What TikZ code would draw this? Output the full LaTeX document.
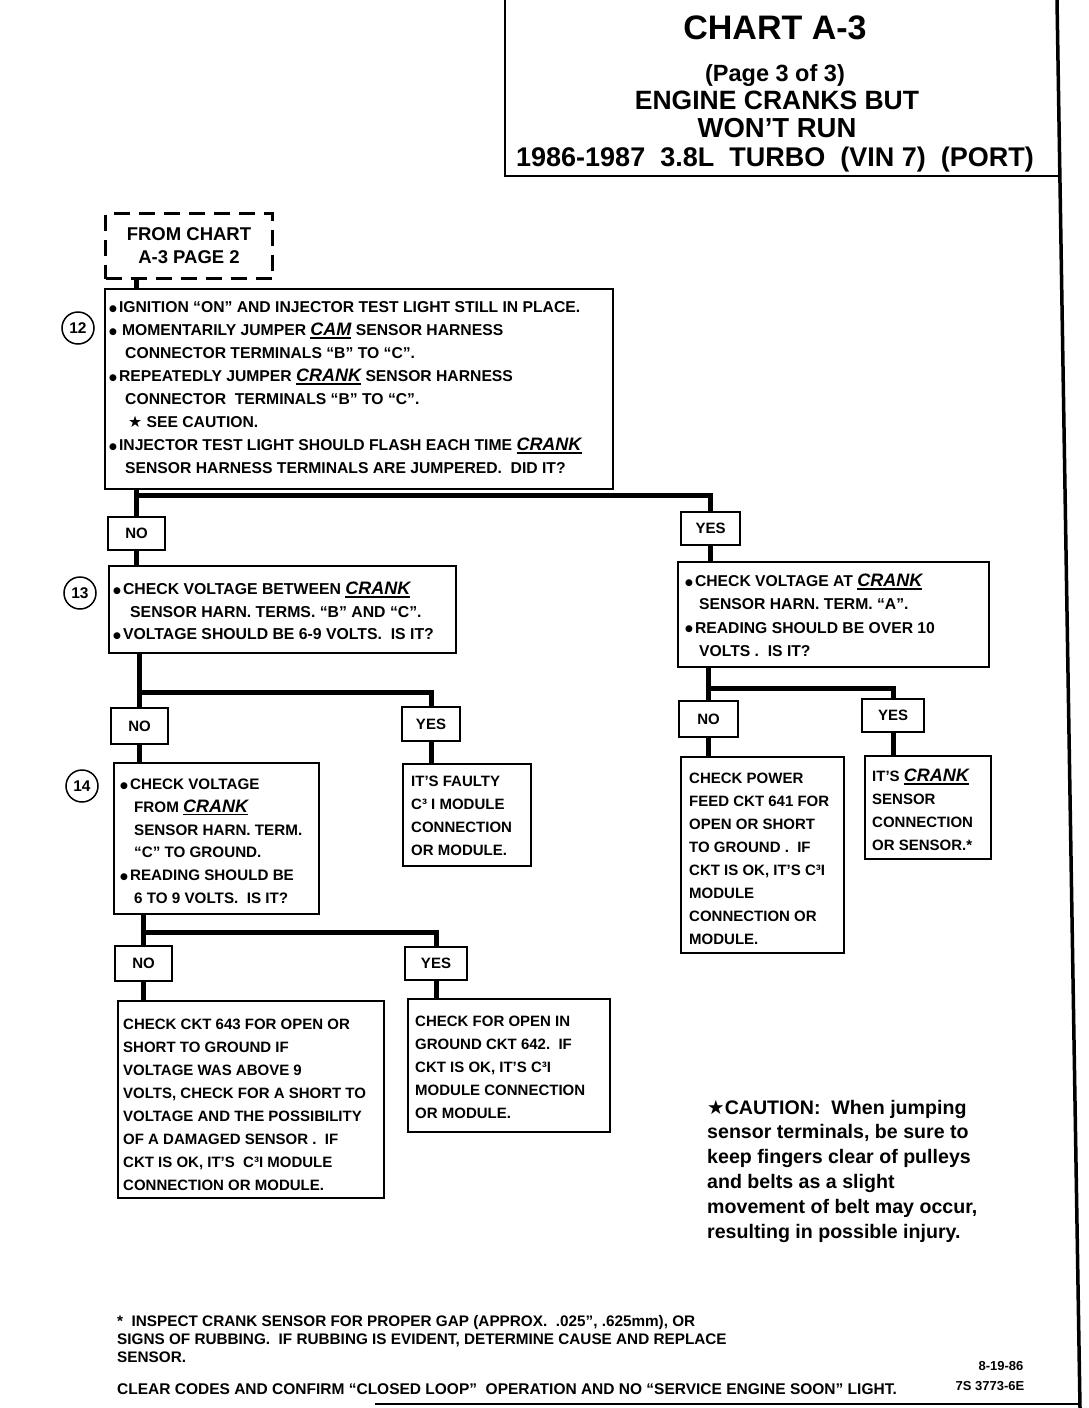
\documentclass[tikz,border=0pt]{standalone}
\usepackage{fontspec}
\setmainfont{Liberation Sans}
\newfontfamily\symf{DejaVu Sans}
\newcommand\fs{\rule{0pt}{14pt}}
\newcommand\bul{\raisebox{1.2pt}{\symf\fontsize{9}{9}\selectfont ●}\hspace{2pt}}
\newcommand\ulit[1]{\leavevmode\setbox0\hbox{\fontsize{18}{18}\selectfont\bfseries\itshape #1}\rlap{\rule[-3pt]{\wd0}{1.6pt}}\box0\relax}
\newcommand\strx{{\symf ★}}
\begin{document}
\begin{tikzpicture}[x=1pt,y=-1pt,
  box/.style={draw, line width=1.8pt, anchor=north west, inner sep=0pt},
  conn/.style={line width=5pt},
  lab/.style={draw, line width=1.8pt, inner sep=0pt, font=\fontsize{15}{15}\selectfont\bfseries},
  txt/.style={anchor=north west, inner sep=0pt, align=left, font=\fontsize{15}{23}\selectfont\bfseries},
  num/.style={circle, draw, line width=1.5pt, minimum size=32pt, inner sep=0pt, font=\fontsize{15.5}{16}\selectfont\bfseries},
  ttl/.style={anchor=base, inner sep=0pt, font=\bfseries}]
\useasboundingbox (0,0) rectangle (1088,1408);
% page frame
\draw[line width=2pt] (505,0) -- (505,176) -- (1058,176);
\draw[line width=3.5pt] (1057,0) -- (1080,1408);
\draw[line width=1.5pt] (375,1404) -- (1080,1404);
% title
\node[ttl, font=\fontsize{34}{34}\selectfont\bfseries] (tA) at (775,39) {CHART A-3};
\node[ttl, font=\fontsize{23.5}{24}\selectfont\bfseries] (tB) at (775,81) {(Page 3 of 3)};
\node[ttl, font=\fontsize{26.5}{27}\selectfont\bfseries] (tC) at (777,109) {ENGINE CRANKS BUT};
\node[ttl, font=\fontsize{27.5}{28}\selectfont\bfseries] (tD) at (777,137) {WON’T RUN};
\node[ttl, font=\fontsize{27}{28}\selectfont\bfseries] (tE) at (775,166) {1986-1987\ \ 3.8L\ \ TURBO\ \ (VIN 7)\ \ (PORT)};
% from chart
\node[draw, dash pattern=on 16pt off 9pt, line width=3pt, anchor=north west, minimum width=167pt, minimum height=65pt, inner sep=0pt, align=center, font=\fontsize{18.5}{23}\selectfont\bfseries] (fc) at (104,212) {FROM CHART\\A-3 PAGE 2};
% boxes
\node[box, minimum width=508pt, minimum height=200pt] (b12) at (104,288) {};
\node[box, minimum width=347pt, minimum height=87pt] (b13) at (108,565) {};
\node[box, minimum width=311pt, minimum height=105pt] (by) at (677,561) {};
\node[box, minimum width=205pt, minimum height=151pt] (b14) at (113,762) {};
\node[box, minimum width=128pt, minimum height=102pt] (bf) at (402,763) {};
\node[box, minimum width=266pt, minimum height=197pt] (bn14) at (117,1000) {};
\node[box, minimum width=202pt, minimum height=133pt] (by14) at (407,998) {};
\node[box, minimum width=163pt, minimum height=196pt] (bnr) at (680,756) {};
\node[box, minimum width=126pt, minimum height=103pt] (byr) at (864,755) {};
% labels
\node[lab, minimum width=57pt, minimum height=33pt] (n1) at (136.5,533.5) {NO};
\node[lab, minimum width=59pt, minimum height=33pt] (y1) at (710.5,528.5) {YES};
\node[lab, minimum width=57pt, minimum height=36pt] (n2) at (139.5,726) {NO};
\node[lab, minimum width=58pt, minimum height=34pt] (y2) at (431,724) {YES};
\node[lab, minimum width=57pt, minimum height=35pt] (n3) at (143.5,963.5) {NO};
\node[lab, minimum width=62pt, minimum height=33pt] (y3) at (436,963.5) {YES};
\node[lab, minimum width=59pt, minimum height=36pt] (n4) at (708.5,719) {NO};
\node[lab, minimum width=62pt, minimum height=33pt] (y4) at (893,715.5) {YES};
% junctions
\coordinate (j1) at (0,495);
\coordinate (j2) at (0,692);
\coordinate (j3) at (0,932);
\coordinate (j4) at (0,688);
% connectors
\draw[conn] (n1 |- fc.south) -- (n1 |- b12.north);
\draw[conn] (n1 |- b12.south) -- (n1.north);
\draw[conn] (n1 |- j1) -| (y1.north);
\draw[conn] (n1.south) -- (n1 |- b13.north);
\draw[conn] (y1.south) -- (y1 |- by.north);
\draw[conn] (n2 |- b13.south) -- (n2.north);
\draw[conn] (n2 |- j2) -| (y2.north);
\draw[conn] (n2.south) -- (n2 |- b14.north);
\draw[conn] (y2.south) -- (y2 |- bf.north);
\draw[conn] (n3 |- b14.south) -- (n3.north);
\draw[conn] (n3 |- j3) -| (y3.north);
\draw[conn] (n3.south) -- (n3 |- bn14.north);
\draw[conn] (y3.south) -- (y3 |- by14.north);
\draw[conn] (n4 |- by.south) -- (n4.north);
\draw[conn] (n4 |- j4) -| (y4.north);
\draw[conn] (n4.south) -- (n4 |- bnr.north);
\draw[conn] (y4.south) -- (y4 |- byr.north);
% step numbers
\node[num] (c12) at (78,328) {12};
\node[num] (c13) at (80,593) {13};
\node[num] (c14) at (82,786) {14};
% texts
\node[txt, font=\fontsize{15.7}{23}\selectfont\bfseries] (t12) at (109,298.3) {\fs\bul IGNITION “ON” AND INJECTOR TEST LIGHT STILL IN PLACE.\\
\bul\hspace{3pt}MOMENTARILY JUMPER \ulit{CAM} SENSOR HARNESS\\
\hspace*{16pt}CONNECTOR TERMINALS “B” TO “C”.\\
\bul REPEATEDLY JUMPER \ulit{CRANK} SENSOR HARNESS\\
\hspace*{16pt}CONNECTOR\ \ TERMINALS “B” TO “C”.\\
\hspace*{19pt}\strx\ SEE CAUTION.\\
\bul INJECTOR TEST LIGHT SHOULD FLASH EACH TIME \ulit{CRANK}\\
\hspace*{16pt}SENSOR HARNESS TERMINALS ARE JUMPERED.\ \ DID IT?};
\node[txt, font=\fontsize{15.8}{22.5}\selectfont\bfseries] (t13) at (113,580.3) {\fs\bul CHECK VOLTAGE BETWEEN \ulit{CRANK}\\
\hspace*{17pt}SENSOR HARN. TERMS. “B” AND “C”.\\
\bul VOLTAGE SHOULD BE 6-9 VOLTS.\ \ IS IT?};
\node[txt, font=\fontsize{15.7}{23.3}\selectfont\bfseries] (ty) at (685,572.3) {\fs\bul CHECK VOLTAGE AT \ulit{CRANK}\\
\hspace*{14pt}SENSOR HARN. TERM. “A”.\\
\bul READING SHOULD BE OVER 10\\
\hspace*{14pt}VOLTS .\ \ IS IT?};
\node[txt, font=\fontsize{15.2}{22.8}\selectfont\bfseries] (t14) at (120,775.3) {\fs\bul CHECK VOLTAGE\\
\hspace*{14pt}FROM \ulit{CRANK}\\
\hspace*{14pt}SENSOR HARN. TERM.\\
\hspace*{14pt}“C” TO GROUND.\\
\bul READING SHOULD BE\\
\hspace*{14pt}6 TO 9 VOLTS.\ \ IS IT?};
\node[txt] (tf) at (411,772.3) {\fs IT’S FAULTY\\
C³ I MODULE\\
CONNECTION\\
OR MODULE.};
\node[txt] (tn14) at (123,1015.3) {\fs CHECK CKT 643 FOR OPEN OR\\
SHORT TO GROUND IF\\
VOLTAGE WAS ABOVE 9\\
VOLTS, CHECK FOR A SHORT TO\\
VOLTAGE AND THE POSSIBILITY\\
OF A DAMAGED SENSOR .\ \ IF\\
CKT IS OK, IT’S\ \ C³I MODULE\\
CONNECTION OR MODULE.};
\node[txt] (ty14) at (415,1012.3) {\fs CHECK FOR OPEN IN\\
GROUND CKT 642.\ \ IF\\
CKT IS OK, IT’S C³I\\
MODULE CONNECTION\\
OR MODULE.};
\node[txt] (tnr) at (689,769.3) {\fs CHECK POWER\\
FEED CKT 641 FOR\\
OPEN OR SHORT\\
TO GROUND .\ \ IF\\
CKT IS OK, IT’S C³I\\
MODULE\\
CONNECTION OR\\
MODULE.};
\node[txt] (tyr) at (872,767.3) {\fs IT’S \ulit{CRANK}\\
SENSOR\\
CONNECTION\\
OR SENSOR.*};
% caution
\node[txt, font=\fontsize{19.6}{24.8}\selectfont\bfseries] (caut) at (707,1095.8) {\rule{0pt}{18pt}\strx CAUTION:\ \ When jumping\\
sensor terminals, be sure to\\
keep fingers clear of pulleys\\
and belts as a slight\\
movement of belt may occur,\\
resulting in possible injury.};
% footnotes
\node[txt, font=\fontsize{15.3}{18}\selectfont\bfseries] (fn) at (117,1314) {\rule{0pt}{12pt}*\ \ INSPECT CRANK SENSOR FOR PROPER GAP (APPROX.\ \ .025”, .625mm), OR\\
SIGNS OF RUBBING.\ \ IF RUBBING IS EVIDENT, DETERMINE CAUSE AND REPLACE\\
SENSOR.};
\node[anchor=base west, inner sep=0pt, font=\fontsize{15.5}{18}\selectfont\bfseries] (clr) at (117,1394) {CLEAR CODES AND CONFIRM “CLOSED LOOP”\ \ OPERATION AND NO “SERVICE ENGINE SOON” LIGHT.};
\node[anchor=base, inner sep=0pt, font=\fontsize{13}{14}\selectfont\bfseries] (dt) at (1001,1370) {8-19-86};
\node[anchor=base, inner sep=0pt, font=\fontsize{13}{14}\selectfont\bfseries] (cd) at (990,1390) {7S 3773-6E};
\end{tikzpicture}
\end{document}
